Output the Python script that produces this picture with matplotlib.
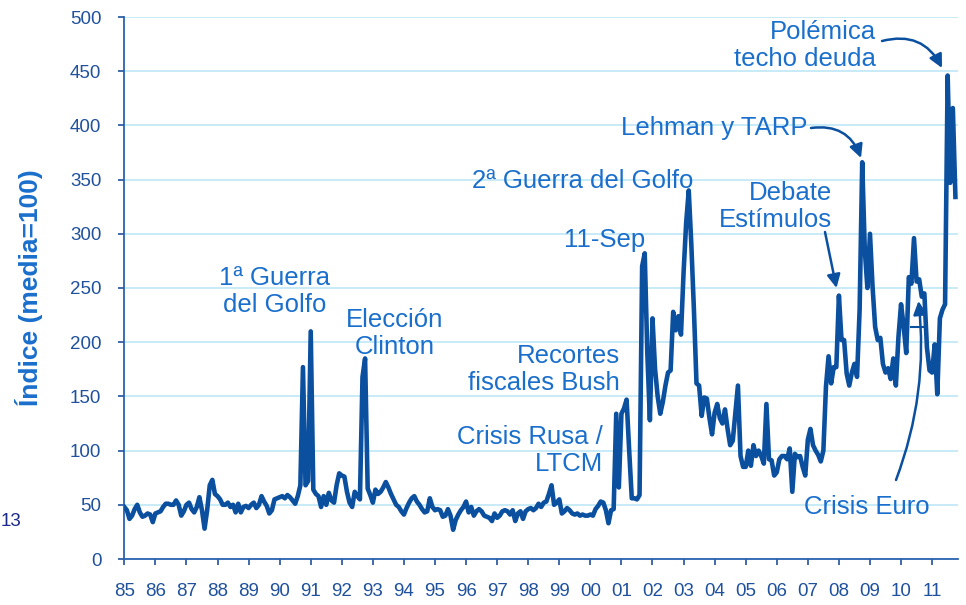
import numpy as np
import matplotlib
matplotlib.use("Agg")
import matplotlib.pyplot as plt

plt.rcParams['font.family'] = ['Liberation Sans', 'DejaVu Sans']

# ---- data: monthly index (media=100), Jan 1985 onwards ----
start_year = 1985
v1985 = [48, 45, 37, 40, 46, 50, 43, 39, 40, 42, 41, 34]
v1986 = [42, 43, 44, 48, 51, 51, 50, 50, 54, 50, 40, 44]
v1987 = [50, 52, 46, 43, 48, 57, 45, 28, 45, 68, 73, 60]
v1988 = [58, 55, 50, 50, 52, 48, 50, 43, 51, 43, 48, 49]
v1989 = [47, 50, 52, 47, 50, 58, 53, 49, 42, 45, 55, 56]
v1990 = [57, 58, 56, 59, 57, 54, 51, 58, 68, 177, 68, 72]
v1991 = [210, 64, 60, 58, 48, 58, 50, 61, 54, 52, 68, 79]
v1992 = [77, 76, 62, 52, 48, 62, 58, 55, 168, 185, 65, 59]
v1993 = [52, 64, 60, 62, 66, 71, 66, 60, 55, 50, 48, 44]
v1994 = [41, 47, 52, 56, 58, 53, 50, 46, 43, 44, 56, 48]
v1995 = [45, 46, 45, 39, 40, 46, 40, 27, 36, 41, 45, 48]
v1996 = [53, 43, 48, 40, 44, 46, 44, 40, 39, 38, 35, 42]
v1997 = [38, 40, 44, 45, 44, 41, 45, 35, 42, 44, 37, 44]
v1998 = [46, 47, 45, 47, 51, 48, 52, 53, 60, 68, 50, 52]
v1999 = [55, 42, 44, 47, 45, 42, 41, 42, 40, 41, 40, 40]
v2000 = [41, 40, 46, 49, 53, 52, 45, 33, 45, 46, 134, 66]
v2001 = [134, 139, 147, 100, 56, 56, 55, 59, 270, 282, 190, 128]
v2002 = [222, 175, 150, 134, 145, 160, 172, 174, 228, 211, 224, 207]
v2003 = [264, 310, 340, 290, 230, 162, 160, 132, 149, 148, 130, 115]
v2004 = [135, 143, 130, 125, 138, 120, 105, 109, 135, 160, 95, 85]
v2005 = [85, 100, 86, 105, 95, 100, 95, 88, 143, 92, 91, 77]
v2006 = [80, 92, 95, 95, 92, 102, 62, 97, 94, 95, 85, 77]
v2007 = [110, 120, 105, 100, 96, 90, 100, 159, 187, 162, 177, 177]
v2008 = [243, 202, 202, 171, 160, 172, 180, 168, 230, 366, 285, 250]
v2009 = [300, 251, 214, 202, 204, 180, 172, 176, 166, 185, 160, 205]
v2010 = [235, 215, 190, 260, 254, 296, 256, 258, 242, 245, 195, 174]
v2011 = [172, 198, 152, 222, 230, 235, 446, 347, 416, 334]

values = np.array(v1985 + v1986 + v1987 + v1988 + v1989 + v1990 + v1991 +
                  v1992 + v1993 + v1994 + v1995 + v1996 + v1997 + v1998 +
                  v1999 + v2000 + v2001 + v2002 + v2003 + v2004 + v2005 +
                  v2006 + v2007 + v2008 + v2009 + v2010 + v2011, dtype=float)
t = start_year + np.arange(len(values)) / 12.0

tick_years = list(range(1985, 2012))
tick_labels = [f"{y % 100:02d}" for y in tick_years]
y_ticks = list(range(0, 501, 50))

# annotations: (text, x, y, ha)
labels = [
    ("1ª Guerra\ndel Golfo", 1989.85, 247, "center"),
    ("Elección\nClinton", 1993.71, 208, "center"),
    ("Recortes\nfiscales Bush", 2000.96, 175, "right"),
    ("Crisis Rusa /\nLTCM", 2000.40, 100, "right"),
    ("11-Sep", 2000.47, 294, "center"),
    ("2ª Guerra del Golfo", 1999.76, 349, "center"),
    ("Lehman y TARP", 2003.98, 398, "center"),
    ("Debate\nEstímulos", 2007.77, 325, "right"),
    ("Polémica\ntecho deuda", 2009.19, 474, "right"),
    ("Crisis Euro", 2008.90, 48, "center"),
]

LINE = '#0b4f9f'
TEXT = '#1a6fcc'
TICK = '#1f519c'
GRID = '#c8eaf7'

W, H = 966, 605
fig = plt.figure(figsize=(W / 100, H / 100), dpi=100)
left, right, bottom, top = 124.3, 958, 559, 17
ax = fig.add_axes([left / W, (H - bottom) / H, (right - left) / W, (bottom - top) / H])

ax.plot(t, values, color=LINE, lw=3.3, solid_joinstyle='round', zorder=3)

ax.set_xlim(1985, 1985 + (right - left) / 31.07)
ax.set_ylim(0, 500)
ax.set_xticks(tick_years)
ax.set_xticklabels(tick_labels)
ax.set_yticks(y_ticks)
ax.yaxis.grid(True, color=GRID, lw=1.4)
ax.set_axisbelow(True)
for s in ['top', 'right']:
    ax.spines[s].set_visible(False)
for s in ['left', 'bottom']:
    ax.spines[s].set_color('#2a62b0')
    ax.spines[s].set_linewidth(1.3)
ax.tick_params(axis='both', colors=TICK, labelsize=13.5, direction='out',
               length=4.5, width=1.2)
ax.tick_params(axis='x', pad=13)
ax.tick_params(axis='y', pad=12)

ax.set_ylabel("Índice (media=100)", color=TEXT, fontsize=19, fontweight='bold')
ax.yaxis.set_label_coords(-0.097, 0.5)

for txt, x, y, ha in labels:
    ax.text(x, y, txt, color=TEXT, fontsize=18.5, ha=ha, va='center',
            multialignment=ha, linespacing=1.15, zorder=4)

def px(xp, yp):
    return (1985 + (xp - 124.3) / 31.07, (559 - yp) / 1.084)

arrow_kw = dict(arrowstyle='-|>', color=LINE, lw=1.8, mutation_scale=20,
                shrinkA=0, shrinkB=0)
ax.annotate('', xy=px(861, 158), xytext=px(811, 128),
            arrowprops=dict(connectionstyle='arc3,rad=-0.4', **arrow_kw))
ax.annotate('', xy=px(942, 68), xytext=px(882, 41),
            arrowprops=dict(connectionstyle='arc3,rad=-0.4', **arrow_kw))
ax.annotate('', xy=px(836.5, 288), xytext=px(825, 232),
            arrowprops=dict(connectionstyle='arc3,rad=0', **arrow_kw))
ax.annotate('', xy=px(918.5, 301), xytext=px(896, 480),
            arrowprops=dict(connectionstyle='arc3,rad=0.12', **arrow_kw))
xa, ya = px(911, 327)
xb, _ = px(926, 327)
ax.plot([xa, xb], [ya, ya], color=LINE, lw=1.5, zorder=4)

fig.text(1 / W, 1 - 522 / H, "13", color='#1c2a8a', fontsize=13.5,
         ha='left', va='center')

fig.savefig("out.png", dpi=100)
